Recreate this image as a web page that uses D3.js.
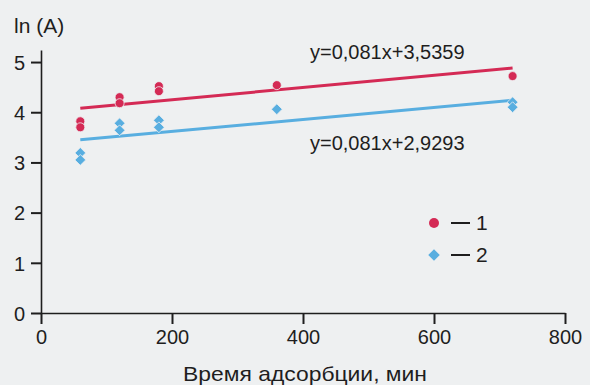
<!DOCTYPE html>
<html>
<head>
<meta charset="utf-8">
<script src="https://cdn.jsdelivr.net/npm/d3@7"></script>
<style>
  html, body { margin: 0; padding: 0; background: #eef0f1; }
  svg { display: block; }
  text { font-family: "Liberation Sans", Arial, sans-serif; }
</style>
</head>
<body>
<div id="chart"></div>
<script>
// Data
const time1 = [60, 60, 120, 120, 180, 180, 360, 720];
const lnA1 = [3.82, 3.70, 4.30, 4.18, 4.52, 4.42, 4.54, 4.72];
const time2 = [60, 60, 120, 120, 180, 180, 360, 720, 720];
const lnA2 = [3.19, 3.05, 3.78, 3.64, 3.84, 3.70, 4.06, 4.20, 4.10];
const trendTime = [60, 720];
const trend1 = [4.08, 4.88];
const trend2 = [3.45, 4.24];
const xTicks = [0, 200, 400, 600, 800];
const yTicks = [0, 1, 2, 3, 4, 5];
const eq1 = "y=0,081x+3,5359";
const eq2 = "y=0,081x+2,9293";
const legendLabels = ["1", "2"];

const red = "#d42a55";
const blue = "#58aee0";
const ink = "#1e1e1e";
const paper = "#eef0f1";

const width = 590, height = 385;

const svg = d3.select("#chart")
  .append("svg")
  .attr("width", width)
  .attr("height", height);

// Scales
const x = d3.scaleLinear().domain([0, 800]).range([41, 565]);
const y = d3.scaleLinear().domain([0, 5.24]).range([313, 50]);

// X axis
const xAxis = svg.append("g")
  .attr("transform", `translate(0, ${y(0)})`)
  .call(d3.axisBottom(x).tickValues(xTicks).tickFormat(d3.format("d"))
    .tickSizeInner(11).tickSizeOuter(0).tickPadding(6));
xAxis.attr("font-size", 20).attr("font-family", null);
xAxis.selectAll("text").attr("fill", ink);

// Y axis
const yAxis = svg.append("g")
  .attr("transform", `translate(${x(0)}, 0)`)
  .call(d3.axisLeft(y).tickValues(yTicks).tickFormat(d3.format("d"))
    .tickSizeInner(10).tickSizeOuter(0).tickPadding(6));
yAxis.attr("font-size", 20).attr("font-family", null);
yAxis.selectAll("text").attr("fill", ink).attr("dy", "0.36em");

svg.selectAll(".domain").attr("stroke", ink).attr("stroke-width", 1.6);
svg.selectAll(".tick line").attr("stroke", ink).attr("stroke-width", 2);

// Axis titles
svg.append("text")
  .attr("x", 14).attr("y", 33)
  .attr("font-size", 21).attr("fill", ink)
  .text("ln (A)");

svg.append("text")
  .attr("x", x(400) + 2).attr("y", 381)
  .attr("text-anchor", "middle")
  .attr("font-size", 21).attr("fill", ink)
  .attr("textLength", 244).attr("lengthAdjust", "spacingAndGlyphs")
  .text("Время адсорбции, мин");

// Trend lines
const line = d3.line().x((d) => x(d[0])).y((d) => y(d[1]));
svg.append("path")
  .datum(d3.zip(trendTime, trend1))
  .attr("fill", "none").attr("stroke", red).attr("stroke-width", 3)
  .attr("d", line);
svg.append("path")
  .datum(d3.zip(trendTime, trend2))
  .attr("fill", "none").attr("stroke", blue).attr("stroke-width", 3)
  .attr("d", line);

// Points
svg.selectAll("circle.s1")
  .data(d3.zip(time1, lnA1))
  .enter().append("circle")
  .attr("class", "s1")
  .attr("cx", (d) => x(d[0]))
  .attr("cy", (d) => y(d[1]))
  .attr("r", 4.5)
  .attr("fill", red)
  .attr("stroke", paper).attr("stroke-width", 0.8);

const diamond = d3.symbol().type(d3.symbolDiamond2).size(75);
svg.selectAll("path.s2")
  .data(d3.zip(time2, lnA2))
  .enter().append("path")
  .attr("class", "s2")
  .attr("transform", (d) => `translate(${x(d[0])}, ${y(d[1])})`)
  .attr("d", diamond)
  .attr("fill", blue)
  .attr("stroke", paper).attr("stroke-width", 0.8);

// Equation labels
svg.append("text")
  .attr("x", 310).attr("y", 59)
  .attr("font-size", 20).attr("fill", ink)
  .text(eq1);
svg.append("text")
  .attr("x", 310).attr("y", 150)
  .attr("font-size", 20).attr("fill", ink)
  .text(eq2);

// Legend
const legend = svg.append("g").attr("transform", "translate(434, 223)");
legendLabels.forEach((label, i) => {
  const g = legend.append("g").attr("transform", `translate(0, ${i * 32})`);
  if (i === 0) {
    g.append("circle").attr("r", 5).attr("fill", red);
  } else {
    g.append("path").attr("d", d3.symbol().type(d3.symbolDiamond2).size(85)).attr("fill", blue);
  }
  g.append("line")
    .attr("x1", 17).attr("x2", 36)
    .attr("stroke", ink).attr("stroke-width", 2);
  g.append("text")
    .attr("x", 42).attr("y", 7)
    .attr("font-size", 21).attr("fill", ink)
    .text(label);
});
</script>
</body>
</html>
